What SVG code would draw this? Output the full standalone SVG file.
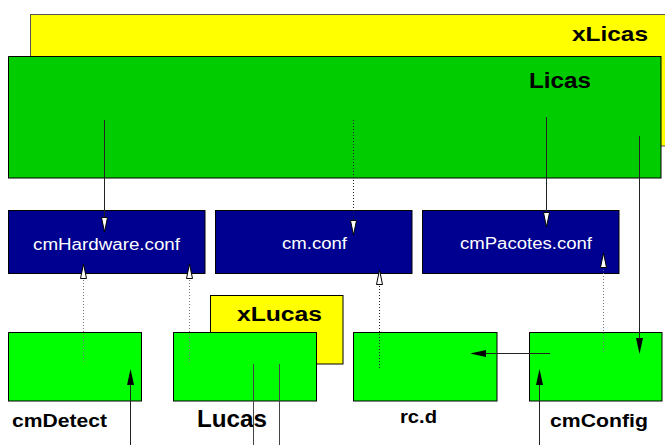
<svg xmlns="http://www.w3.org/2000/svg" width="665" height="445" viewBox="0 0 665 445">
<style>
.big{fill:#00cc00;stroke:#000;stroke-width:1}
.yel{fill:#ffff00;stroke:#555;stroke-width:1}
.yel2{fill:#ffff00;stroke:#000;stroke-width:1}
.conf{fill:#000090;stroke:#000;stroke-width:1}
.prog{fill:#00ff00;stroke:#000;stroke-width:1}
.lbl{font-family:"Liberation Sans",Arial,sans-serif;font-weight:bold;fill:#000}
.ctx{font-family:"Liberation Sans",Arial,sans-serif;fill:#fff;font-size:16px}
.solid{stroke:#222;stroke-width:1;fill:none}
.dots{stroke:#222;stroke-width:1;fill:none;stroke-dasharray:1 2}
.gdots{stroke:#777;stroke-width:1;fill:none;stroke-dasharray:1 2}
.plain{stroke:#444;stroke-width:1;fill:none}
</style>
<defs>
<marker id="open" markerWidth="16" markerHeight="8" refX="15" refY="4" orient="auto" markerUnits="userSpaceOnUse" viewBox="0 0 16 8">
<path d="M0.5,1 L15,4 L0.5,7 Z" fill="#fff" stroke="#000" stroke-width="1"/>
</marker>
</defs>
<g id="xLicas">
<rect class="yel" x="30.5" y="14.5" width="640" height="131.5"/>
<text class="lbl" x="572" y="41" font-size="21" textLength="76" lengthAdjust="spacingAndGlyphs">xLicas</text>
</g>
<g id="Licas">
<rect class="big" x="8.5" y="56.5" width="652.5" height="121.5"/>
<text class="lbl" x="529" y="88" font-size="22" textLength="62" lengthAdjust="spacingAndGlyphs">Licas</text>
</g>
<g id="cmHardware">
<rect class="conf" x="8.5" y="210.5" width="196.5" height="63"/>
<text class="ctx" x="33" y="250" textLength="147" lengthAdjust="spacingAndGlyphs">cmHardware.conf</text>
</g>
<g id="cmconf">
<rect class="conf" x="215.5" y="210.5" width="196.5" height="63"/>
<text class="ctx" x="282" y="249" textLength="65" lengthAdjust="spacingAndGlyphs">cm.conf</text>
</g>
<g id="cmPacotes">
<rect class="conf" x="422.5" y="210.5" width="196.5" height="63"/>
<text class="ctx" x="460" y="249" textLength="132" lengthAdjust="spacingAndGlyphs">cmPacotes.conf</text>
</g>
<g id="xLucas">
<rect class="yel2" x="210.5" y="295.5" width="132.5" height="68.5"/>
<text class="lbl" x="237" y="321" font-size="20" textLength="85" lengthAdjust="spacingAndGlyphs">xLucas</text>
</g>
<g id="cmDetect">
<rect class="prog" x="8.5" y="332.5" width="133" height="68.5"/>
<text class="lbl" x="12" y="427" font-size="19" textLength="95" lengthAdjust="spacingAndGlyphs">cmDetect</text>
</g>
<g id="Lucas">
<rect class="prog" x="173.5" y="332.5" width="143" height="68.5"/>
<text class="lbl" x="197" y="427" font-size="24" textLength="70" lengthAdjust="spacingAndGlyphs">Lucas</text>
</g>
<g id="rcd">
<rect class="prog" x="353.5" y="332.5" width="143.5" height="68.5"/>
<text class="lbl" x="400" y="423" font-size="19" textLength="37" lengthAdjust="spacingAndGlyphs">rc.d</text>
</g>
<g id="cmConfig">
<rect class="prog" x="529.5" y="332.5" width="132.5" height="68.5"/>
<text class="lbl" x="550" y="427" font-size="19" textLength="98" lengthAdjust="spacingAndGlyphs">cmConfig</text>
</g>
<g id="connectors">
<path class="solid" d="M104.5,120 V232" marker-end="url(#open)"/>
<path class="dots" d="M353.5,120 V235" marker-end="url(#open)"/>
<path class="solid" d="M546.5,117 V227" marker-end="url(#open)"/>
<path class="gdots" d="M83.5,362 V264" marker-end="url(#open)"/>
<path class="gdots" d="M189.5,362 V264" marker-end="url(#open)"/>
<path class="dots" d="M379.5,368 V270" marker-end="url(#open)"/>
<path class="gdots" d="M603.5,352 V253" marker-end="url(#open)"/>
<path class="solid" d="M639.5,136 V340"/>
<path d="M639.5,354 L636,338 L643,338 Z" fill="#000"/>
<path class="solid" d="M550,353.5 H484"/>
<path d="M470,353.5 L486,350 L486,357 Z" fill="#000"/>
<path class="solid" d="M539.5,445 V383"/>
<path d="M539.5,369 L536,385 L543,385 Z" fill="#000"/>
<path class="solid" d="M130.5,445 V383"/>
<path d="M130.5,369 L127,385 L134,385 Z" fill="#000"/>
<path class="plain" d="M253.5,364 V445"/>
<path class="plain" d="M279.5,364 V445"/>
</g>
</svg>
